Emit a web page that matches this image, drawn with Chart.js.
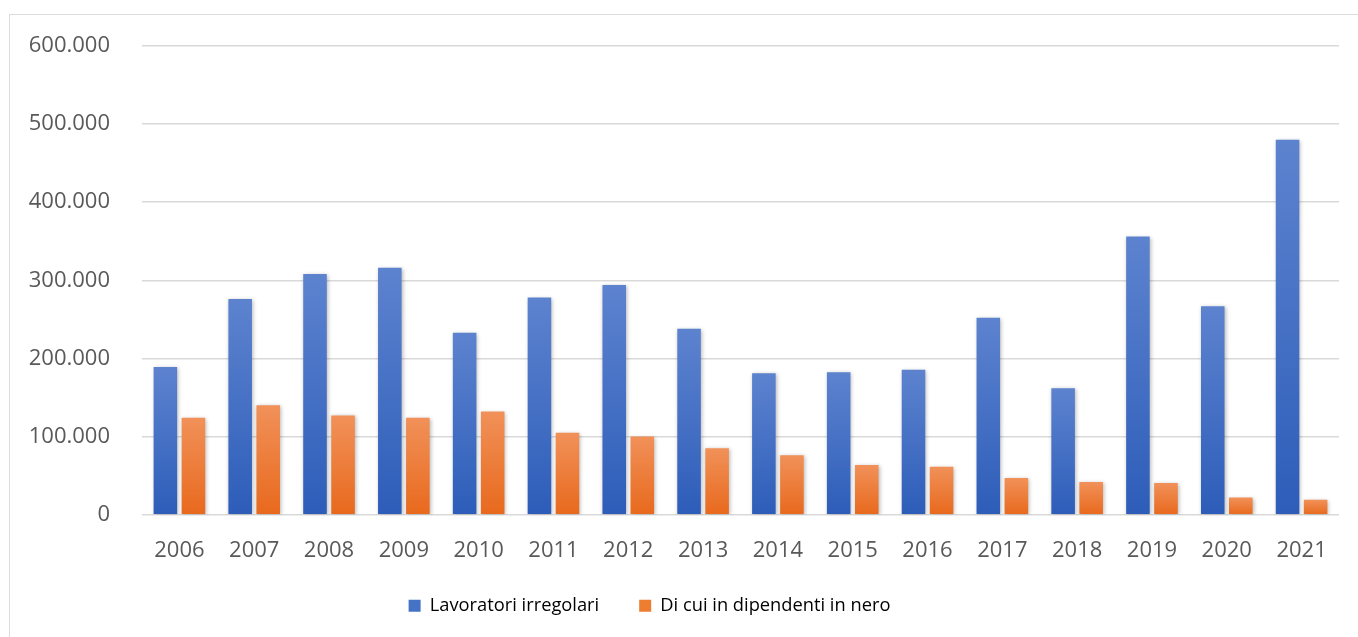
<!DOCTYPE html>
<html>
<head>
<meta charset="utf-8">
<script src="https://cdn.jsdelivr.net/npm/chart.js@4"></script>
<style>
  body { margin: 0; background: #fff; }
  #wrap { position: relative; width: 1358px; height: 637px; overflow: hidden; }
  #frame { position: absolute; left: 9px; top: 14px; width: 1400px; height: 700px; border: 1.5px solid #dcdcdc; }
  canvas { position: absolute; left: 0; top: 0; }
</style>
</head>
<body>
<div id="wrap">
  <div id="frame"></div>
  <canvas id="chart"></canvas>
</div>
<script>
// Dati
const anni = ['2006', '2007', '2008', '2009', '2010', '2011', '2012', '2013',
              '2014', '2015', '2016', '2017', '2018', '2019', '2020', '2021'];
const lavoratoriIrregolari = [189000, 276000, 308000, 316000, 233000, 278000, 294000, 238000,
                              181000, 182500, 185500, 252000, 162000, 356000, 267000, 480000];
const dipendentiInNero = [124000, 140000, 127000, 124000, 132000, 105000, 100000, 85000,
                          76000, 63500, 61500, 47000, 42000, 40500, 22000, 19000];
const tickValori = [0, 100000, 200000, 300000, 400000, 500000, 600000];

const fmt = v => String(v).replace(/\B(?=(\d{3})+(?!\d))/g, '.');

// gradient for every single bar (lighter top, darker bottom)
function barGradient(top, bottom) {
    return (context) => {
        const chart = context.chart;
        const { ctx, chartArea, scales } = chart;
        if (!chartArea || context.type !== 'data') return bottom;
        const yTop = scales.y.getPixelForValue(context.raw);
        const yBot = scales.y.getPixelForValue(0);
        if (!(yBot > yTop)) return bottom;
        const g = ctx.createLinearGradient(0, yTop, 0, yBot);
        g.addColorStop(0, top);
        g.addColorStop(1, bottom);
        return g;
    };
}

// soft shadow like in the original + small legend shift
const barShadow = {
    id: 'barShadow',
    afterLayout(chart) {
        const lg = chart.legend;
        if (lg) {
            lg.left -= 20;
            lg.right -= 20;
            lg.top -= 6;
            lg.bottom -= 6;
        }
    },
    beforeDatasetsDraw(chart) {
        const ctx = chart.ctx;
        ctx.save();
        ctx.shadowColor = 'rgba(0,0,0,0.28)';
        ctx.shadowBlur = 4;
        ctx.shadowOffsetX = 1;
        ctx.shadowOffsetY = 1;
    },
    afterDatasetsDraw(chart) {
        chart.ctx.restore();
    }
};

new Chart(document.getElementById('chart'), {
    type: 'bar',
    data: {
        labels: anni,
        datasets: [{
            label: 'Lavoratori irregolari',
            data: lavoratoriIrregolari,
            backgroundColor: barGradient('#5d83cf', '#2d5db9'),
            borderWidth: 0,
            categoryPercentage: 0.75,
            barPercentage: 0.84
        }, {
            label: 'Di cui in dipendenti in nero',
            data: dipendentiInNero,
            backgroundColor: barGradient('#f19159', '#e8691d'),
            borderWidth: 0,
            categoryPercentage: 0.75,
            barPercentage: 0.84
        }]
    },
    options: {
        responsive: true,
        maintainAspectRatio: false,
        animation: false,
        layout: { padding: { left: 0, right: 19, top: 46, bottom: 6 } },
        plugins: {
            legend: {
                position: 'bottom',
                labels: {
                    boxWidth: 12, boxHeight: 12, padding: 40,
                    color: '#595959',
                    font: { family: 'Open Sans', size: 18.3 },
                    generateLabels: (chart) => {
                        const cols = ['#4472c4', '#ed7d31'];
                        return chart.data.datasets.map((ds, i) => ({
                            text: ds.label, fillStyle: cols[i], strokeStyle: cols[i],
                            lineWidth: 0, datasetIndex: i, hidden: false
                        }));
                    }
                }
            },
            tooltip: { enabled: false }
        },
        scales: {
            x: {
                grid: { display: false },
                border: { display: false },
                afterFit: (scale) => { scale.height = 48; },
                ticks: { color: '#595959', padding: 15, font: { family: 'Open Sans', size: 22 } }
            },
            y: {
                min: 0, max: 600000,
                afterBuildTicks: (scale) => { scale.ticks = tickValori.map(v => ({ value: v })); },
                afterFit: (scale) => { scale.width = 142; },
                grid: { color: '#d9d9d9', lineWidth: 1.5, drawTicks: false },
                border: { display: false },
                ticks: {
                    color: '#595959', padding: 32,
                    font: { family: 'Open Sans', size: 22 },
                    callback: (v) => fmt(v)
                }
            }
        }
    },
    plugins: [barShadow]
});
</script>
</body>
</html>
